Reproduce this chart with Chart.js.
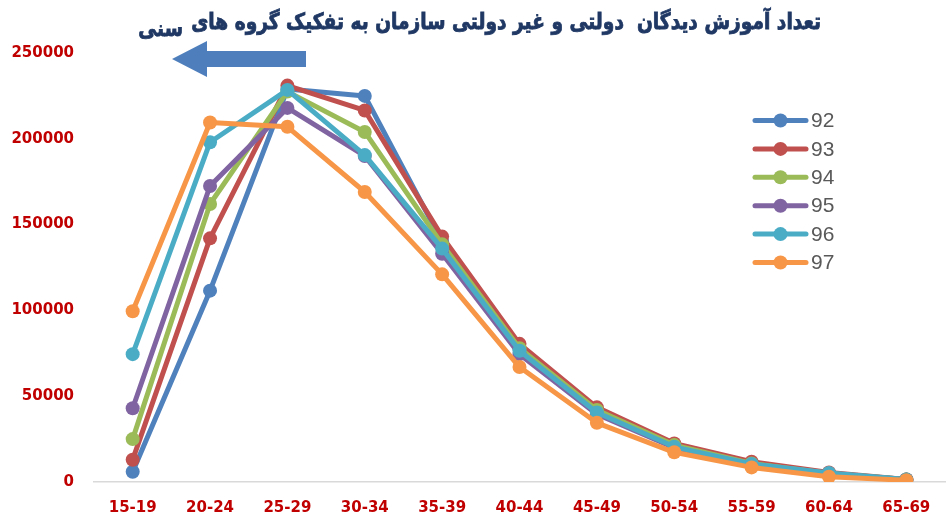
<!DOCTYPE html>
<html>
<head>
<meta charset="utf-8">
<script src="https://cdn.jsdelivr.net/npm/chart.js@4"></script>
<style>
  html, body { margin:0; padding:0; background:#fff; overflow:hidden; }
  #wrap { width:952px; height:521px; position:relative; }
</style>
</head>
<body>
<div id="wrap"><canvas id="ageChart"></canvas></div>
<script>
// data
const TITLE_MAIN = 'تعداد آموزش دیدگان  دولتی و غیر دولتی سازمان به تفکیک گروه های';
const TITLE_TAIL = 'سنی';
const AGE_GROUPS = ['15-19', '20-24', '25-29', '30-34', '35-39', '40-44', '45-49', '50-54', '55-59', '60-64', '65-69'];
const SERIES_NAMES = ['92', '93', '94', '95', '96', '97'];
const Y_TICKS = [0, 50000, 100000, 150000, 200000, 250000];

const Y92 = [6000, 111500, 229000, 225000, 140000, 77500, 42000, 21500, 10500, 5000, 1500];
const Y93 = [13000, 142000, 231000, 216500, 143000, 80500, 43500, 22500, 11800, 5500, 1500];
const Y94 = [25000, 162000, 227500, 204000, 138500, 78000, 42000, 21500, 10800, 5000, 1400];
const Y95 = [43000, 172500, 218000, 190000, 133000, 74500, 39500, 20000, 10000, 4800, 1300];
const Y96 = [74500, 198000, 228500, 190500, 136000, 76500, 40500, 20500, 10500, 5300, 1400];
const Y97 = [99500, 209500, 207000, 169000, 121000, 67000, 34500, 17300, 8500, 3100, 1000];

const SERIES = [Y92, Y93, Y94, Y95, Y96, Y97];
const COLORS = ['#4F81BD', '#C0504D', '#9BBB59', '#8064A2', '#4BACC6', '#F79646'];

const AXIS_RED = '#C00000';
const TICK_FONT = { family: 'DejaVu Sans', size: 15, weight: 'bold' };

// title + arrow, drawn on the canvas
const titlePlugin = {
  id: 'titleArrow',
  afterDraw(chart) {
    const ctx = chart.ctx;
    ctx.save();
    ctx.fillStyle = '#1F3864';
    ctx.strokeStyle = '#1F3864';
    ctx.lineWidth = 0.7;
    ctx.direction = 'rtl';
    ctx.textAlign = 'right';
    ctx.textBaseline = 'alphabetic';
    // fit main line to the width it has in the reference
    ctx.font = 'bold 20px "DejaVu Sans"';
    const w = ctx.measureText(TITLE_MAIN).width;
    const size = Math.min(24, 20 * 630 / w);
    ctx.font = `bold ${size}px "DejaVu Sans"`;
    // a little taller than wide, like the original
    ctx.save();
    ctx.translate(0, 29);
    ctx.scale(1, 1.2);
    ctx.fillText(TITLE_MAIN, 821, 0);
    ctx.strokeText(TITLE_MAIN, 821, 0);
    ctx.restore();
    ctx.save();
    ctx.translate(0, 36);
    ctx.scale(1, 1.2);
    ctx.fillText(TITLE_TAIL, 183, 0);
    ctx.strokeText(TITLE_TAIL, 183, 0);
    ctx.restore();

    // big blue arrow pointing left
    ctx.fillStyle = '#4E7FBC';
    ctx.beginPath();
    ctx.moveTo(172, 59);
    ctx.lineTo(207, 41);
    ctx.lineTo(207, 51);
    ctx.lineTo(306, 51);
    ctx.lineTo(306, 67);
    ctx.lineTo(207, 67);
    ctx.lineTo(207, 77);
    ctx.closePath();
    ctx.fill();
    ctx.restore();
  }
};

// legend inside the plot: line with a dot, then the year
const legendPlugin = {
  id: 'lineLegend',
  afterDraw(chart) {
    const ctx = chart.ctx;
    ctx.save();
    chart.data.datasets.forEach((ds, i) => {
      const y = 120.5 + i * 28.4;
      ctx.strokeStyle = ds.borderColor;
      ctx.lineWidth = 5;
      ctx.lineCap = 'round';
      ctx.beginPath();
      ctx.moveTo(755, y);
      ctx.lineTo(806, y);
      ctx.stroke();
      ctx.fillStyle = ds.borderColor;
      ctx.beginPath();
      ctx.arc(780.5, y, 7, 0, Math.PI * 2);
      ctx.fill();
      ctx.fillStyle = '#595959';
      ctx.font = '21px "Liberation Sans"';
      ctx.textAlign = 'left';
      ctx.textBaseline = 'middle';
      ctx.fillText(ds.label, 811, y + 1);
    });
    ctx.restore();
  }
};

new Chart(document.getElementById('ageChart'), {
  type: 'line',
  data: {
    labels: AGE_GROUPS,
    datasets: SERIES.map((vals, i) => ({
      label: SERIES_NAMES[i],
      data: vals,
      borderColor: COLORS[i],
      backgroundColor: COLORS[i],
      pointBackgroundColor: COLORS[i],
      pointBorderWidth: 0,
      pointRadius: 7,
      borderWidth: 5,
      borderCapStyle: 'round',
      borderJoinStyle: 'round',
      tension: 0,
      order: SERIES.length - i
    }))
  },
  options: {
    responsive: true, maintainAspectRatio: false,
    animation: false,
    layout: { padding: { top: 53, left: 0, right: 0, bottom: 0 } },
    plugins: {
      legend: { display: false },
      title: { display: false },
      tooltip: { enabled: false }
    },
    scales: {
      x: {
        offset: true,
        grid: { display: false, drawTicks: false },
        border: { display: true, color: '#D9D9D9', width: 1.5 },
        ticks: { color: AXIS_RED, font: TICK_FONT, padding: 17, maxRotation: 0, autoSkip: false },
        afterFit: s => { s.height = 39; }
      },
      y: {
        min: Y_TICKS[0], max: Y_TICKS[Y_TICKS.length - 1],
        grid: { display: false, drawTicks: false },
        border: { display: false },
        afterBuildTicks: s => { s.ticks = Y_TICKS.map(v => ({ value: v })); },
        ticks: { color: AXIS_RED, font: TICK_FONT, padding: 20, callback: v => String(v) },
        afterFit: s => { s.width = 94; }
      }
    }
  },
  plugins: [titlePlugin, legendPlugin]
});
</script>
</body>
</html>
